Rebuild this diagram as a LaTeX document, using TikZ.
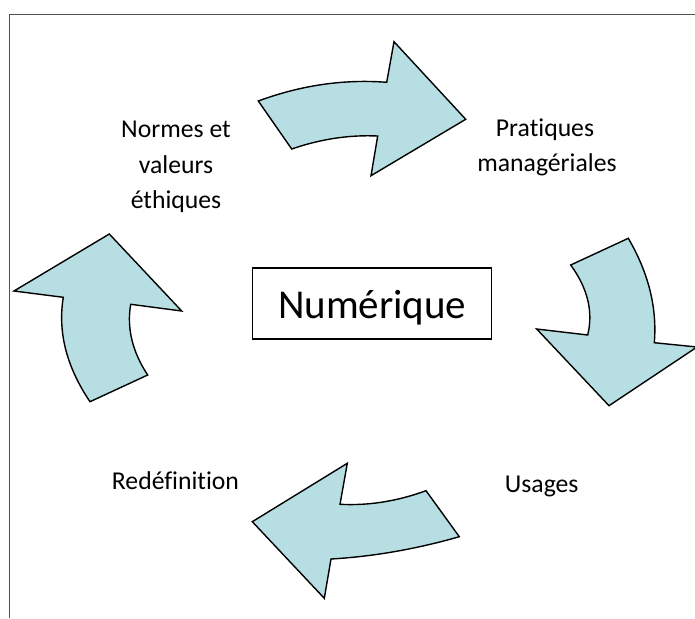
\documentclass[tikz,border=0pt]{standalone}
\usepackage{fontspec}
\setmainfont[Ligatures=NoCommon]{Carlito}
\definecolor{arrowfill}{HTML}{B7DFE3}
\definecolor{framegray}{RGB}{80,80,80}
\tikzset{
  bentarrow/.style={fill=arrowfill, draw=black, line width=1.4pt, line join=miter},
  lbl/.style={anchor=base, inner sep=0pt, font=\fontsize{25.7}{30}\selectfont},
  framer/.style={draw=framegray, line width=1.8pt}
}
\begin{document}
\begin{tikzpicture}[x=1pt,y=-1pt]
\useasboundingbox (0,0) rectangle (695,618);
\begin{scope}
\clip (0,0) rectangle (695,618);
% frame
\coordinate (fbl) at (9.5,618);
\coordinate (ftl) at (9.5,14.5);
\coordinate (ftr) at (695,14.5);
\draw[framer] (fbl) -- (ftl) -- (ftr);
% top arrow
\draw[bentarrow] (258.3,101) .. controls (301.1,85.2) and (343.9,79.0) .. (386.7,82.3)
  -- (394,41.7) -- (465.7,119.3) -- (371,175.7) -- (377.7,136)
  .. controls (349.0,134.7) and (320.4,139.1) .. (291.7,149) -- cycle;
% right arrow
\draw[bentarrow] (570.7,265) -- (628.3,238.3)
  .. controls (648.6,273.1) and (657.2,307.9) .. (654.3,342.7)
  -- (697,347) -- (609,405.7) -- (536.7,329) -- (587.7,335)
  .. controls (593.4,311.7) and (587.7,288.3) .. (570.7,265) -- cycle;
% bottom arrow
\draw[bentarrow] (426,490.7) .. controls (397.3,501.2) and (368.7,505.8) .. (340,504.3)
  -- (347.3,463.3) -- (252.3,521.7) -- (324.3,598.3) -- (331,559)
  .. controls (373.7,556.5) and (416.4,549.0) .. (459.3,536.7) -- cycle;
% left arrow
\draw[bentarrow] (90,401.7) .. controls (66.5,366.9) and (57.6,332.1) .. (63.3,297.3)
  -- (14,291) -- (109.3,234) -- (181.7,311) -- (130.7,304.3)
  .. controls (126.6,328) and (132.3,351.7) .. (147.7,375) -- cycle;
\end{scope}
% center box
\node[draw=black, line width=1.3pt, minimum width=239pt, minimum height=71pt,
  inner sep=0pt, text height=29.6pt, text depth=0pt,
  font=\fontsize{41}{48}\selectfont] (num) at (372.2,303.5) {Numérique};
% labels
\node[lbl] (norm1) at (176,137.3) {Normes et};
\node[lbl] (norm2) at (176,173.3) {valeurs};
\node[lbl] (norm3) at (176,208.6) {éthiques};
\node[lbl] (prat1) at (545,136.7) {Pratiques};
\node[lbl] (prat2) at (547,171.5) {managériales};
\node[lbl] (redef) at (175.5,489.5) {Redéfinition};
\node[lbl] (usag) at (541.7,492.5) {Usages};
\end{tikzpicture}
\end{document}
